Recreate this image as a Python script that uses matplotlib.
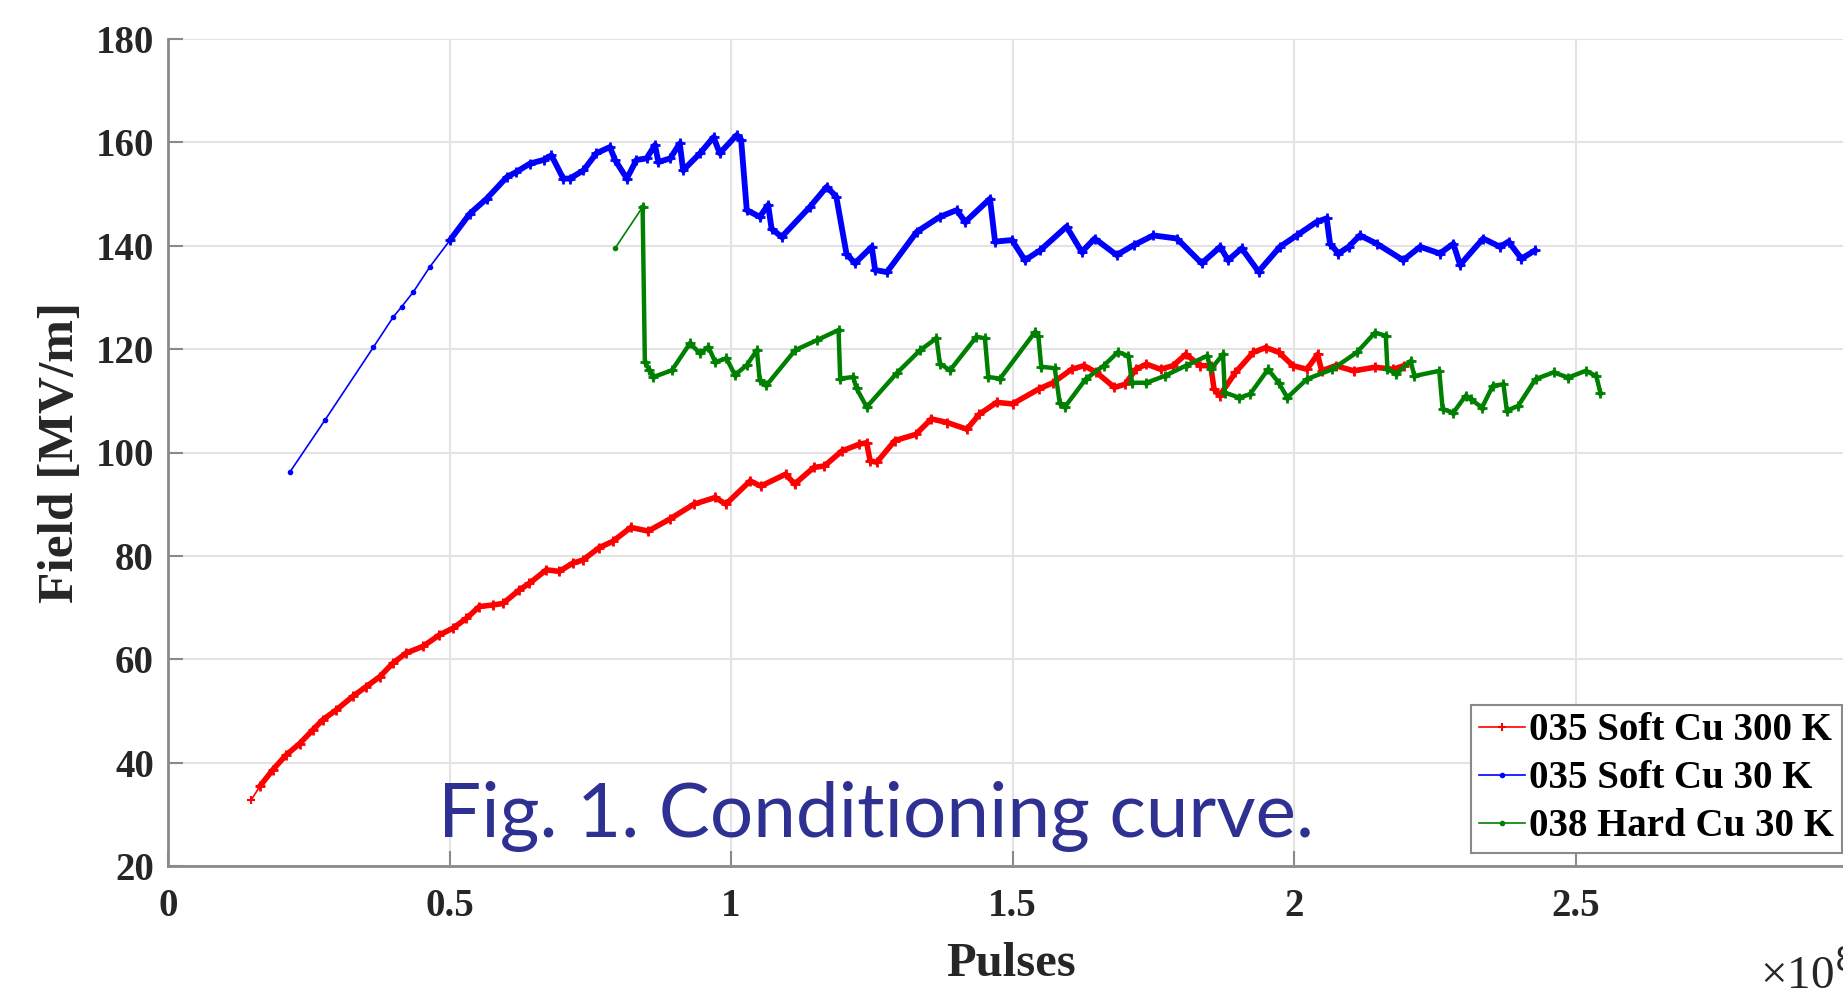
import matplotlib
matplotlib.use("Agg")
import matplotlib.pyplot as plt

# pulses in units of 1e8, field in MV/m
red_x = [0.148, 0.163, 0.186, 0.210, 0.234, 0.257, 0.275, 0.299, 0.328, 0.352,
         0.376, 0.399, 0.423, 0.453, 0.482, 0.506, 0.530, 0.553, 0.577, 0.595,
         0.624, 0.642, 0.672, 0.695, 0.719, 0.737, 0.766, 0.790, 0.822, 0.853,
         0.891, 0.934, 0.972, 0.991, 1.034, 1.053, 1.097, 1.113, 1.147, 1.166,
         1.197, 1.228, 1.241, 1.247, 1.259, 1.291, 1.328, 1.356, 1.384, 1.419,
         1.441, 1.472, 1.500, 1.547, 1.572, 1.605, 1.627, 1.649, 1.681, 1.700,
         1.719, 1.738, 1.763, 1.785, 1.808, 1.833, 1.852, 1.858, 1.868, 1.896,
         1.928, 1.950, 1.973, 1.998, 2.023, 2.042, 2.049, 2.074, 2.106, 2.144,
         2.176, 2.195]
red_y = [32.8, 35.4, 38.6, 41.5, 43.7, 46.3, 48.3, 50.2, 52.8, 54.7,
         56.6, 59.2, 61.2, 62.5, 64.7, 66.0, 67.9, 70.2, 70.5, 70.8,
         73.4, 74.7, 77.3, 77.0, 78.6, 79.2, 81.6, 82.8, 85.5, 84.8,
         87.1, 90.0, 91.3, 90.0, 94.5, 93.5, 95.8, 93.9, 97.1, 97.4,
         100.3, 101.6, 101.9, 98.4, 98.1, 102.3, 103.5, 106.5, 105.8, 104.5,
         107.4, 109.7, 109.4, 112.3, 113.5, 116.1, 116.8, 115.5, 112.6, 113.2,
         116.1, 117.1, 116.1, 116.8, 119.0, 116.8, 116.8, 112.3, 111.0, 115.5,
         119.4, 120.3, 119.4, 116.8, 116.1, 119.0, 115.8, 116.8, 115.8, 116.5,
         116.1, 116.8]

blue_x = [0.217, 0.279, 0.365, 0.400, 0.415, 0.436, 0.465, 0.501, 0.536, 0.566,
          0.602, 0.619, 0.643, 0.667, 0.681, 0.702, 0.714, 0.738, 0.761, 0.785,
          0.794, 0.815, 0.832, 0.850, 0.865, 0.871, 0.892, 0.909, 0.915, 0.945,
          0.969, 0.980, 1.010, 1.018, 1.028, 1.051, 1.066, 1.072, 1.090, 1.140,
          1.170, 1.187, 1.205, 1.220, 1.250, 1.256, 1.277, 1.330, 1.371, 1.401,
          1.416, 1.460, 1.469, 1.499, 1.522, 1.549, 1.596, 1.623, 1.646, 1.685,
          1.715, 1.750, 1.792, 1.836, 1.869, 1.883, 1.907, 1.937, 1.975, 2.005,
          2.040, 2.058, 2.064, 2.079, 2.097, 2.117, 2.147, 2.194, 2.224, 2.259,
          2.283, 2.295, 2.336, 2.366, 2.381, 2.404, 2.428]
blue_y = [96.3, 106.3, 120.4, 126.2, 128.2, 131.1, 135.9, 141.1, 146.2, 149.1,
          153.3, 154.3, 155.9, 156.6, 157.5, 153.0, 153.0, 154.6, 157.9, 159.1,
          156.6, 153.0, 156.6, 156.9, 159.5, 156.2, 156.9, 159.8, 154.6, 157.9,
          161.0, 157.9, 161.4, 160.5, 146.9, 145.6, 147.9, 143.3, 141.7, 147.5,
          151.4, 149.5, 138.5, 136.6, 139.8, 135.3, 134.9, 142.7, 145.6, 146.9,
          144.6, 149.1, 140.8, 141.1, 137.2, 139.1, 143.7, 138.8, 141.4, 138.2,
          140.1, 142.0, 141.4, 136.6, 139.8, 137.2, 139.5, 135.0, 139.8, 142.0,
          144.6, 145.3, 140.4, 138.5, 139.8, 142.0, 140.4, 137.2, 139.8, 138.5,
          140.4, 136.3, 141.4, 139.8, 140.8, 137.5, 139.1]

green_x = [0.794, 0.843, 0.847, 0.855, 0.862, 0.895, 0.927, 0.945, 0.960, 0.972,
           0.992, 1.007, 1.028, 1.046, 1.051, 1.063, 1.114, 1.152, 1.191, 1.194,
           1.217, 1.223, 1.241, 1.294, 1.336, 1.365, 1.371, 1.389, 1.436, 1.451,
           1.457, 1.478, 1.540, 1.546, 1.551, 1.575, 1.584, 1.593, 1.630, 1.662,
           1.687, 1.706, 1.712, 1.738, 1.770, 1.808, 1.846, 1.852, 1.874, 1.877,
           1.903, 1.922, 1.954, 1.973, 1.988, 2.023, 2.068, 2.112, 2.144, 2.163,
           2.166, 2.182, 2.207, 2.214, 2.258, 2.264, 2.283, 2.305, 2.314, 2.334,
           2.353, 2.372, 2.378, 2.398, 2.429, 2.461, 2.487, 2.518, 2.537, 2.544]
green_y = [139.5, 147.5, 117.5, 116.0, 114.6, 115.9, 121.1, 119.2, 120.4, 117.5,
           118.2, 115.0, 116.9, 119.8, 114.0, 113.0, 119.8, 121.7, 123.7, 114.3,
           114.6, 112.4, 108.8, 115.3, 119.8, 122.1, 117.2, 115.9, 122.4, 122.1,
           114.6, 114.3, 123.3, 122.5, 116.6, 116.3, 109.5, 108.8, 114.2, 116.8,
           119.4, 118.7, 113.5, 113.5, 114.8, 116.8, 118.7, 116.1, 119.0, 111.6,
           110.6, 111.3, 116.1, 113.5, 110.6, 114.2, 116.1, 119.4, 123.2, 122.6,
           116.1, 115.2, 117.7, 114.8, 115.8, 108.4, 107.7, 111.0, 110.3, 108.7,
           112.9, 113.2, 108.1, 109.0, 114.2, 115.5, 114.5, 115.8, 114.8, 111.6]

labels = ["035 Soft Cu 300 K", "035 Soft Cu 30 K", "038 Hard Cu 30 K"]
x_ticks = [0, 0.5, 1, 1.5, 2, 2.5]
y_ticks = [20, 40, 60, 80, 100, 120, 140, 160, 180]

serif = "Liberation Serif"
fig = plt.figure(figsize=(18.43, 9.94), dpi=100)
ax = fig.add_axes([168 / 1843, 128 / 994, 1689 / 1843, 827 / 994])

red, blue, green = "#ff0000", "#0000ff", "#008000"

# thin line with markers for the whole run, thick overlay where data is dense
ax.plot(red_x, red_y, color=red, lw=1.2, marker="+", ms=6, mew=1.5, label=labels[0])
ax.plot(red_x[1:], red_y[1:], color=red, lw=4.0, marker="+", ms=7, mew=2)
ax.plot(blue_x, blue_y, color=blue, lw=1.2, marker=".", ms=6, label=labels[1])
ax.plot(blue_x[7:], blue_y[7:], color=blue, lw=4.2, marker="+", ms=7, mew=2)
ax.plot(green_x, green_y, color=green, lw=1.2, marker=".", ms=6, label=labels[2])
ax.plot(green_x[1:], green_y[1:], color=green, lw=3.2, marker="+", ms=7, mew=2)

ax.set_xlim(0, 3)
ax.set_ylim(20, 180)
ax.set_xticks(x_ticks)
ax.set_xticklabels(["0", "0.5", "1", "1.5", "2", "2.5"])
ax.set_yticks(y_ticks)
ax.grid(True, color="#e3e3e3", lw=1.5)
ax.set_axisbelow(True)
for s in ["top", "right"]:
    ax.spines[s].set_visible(False)
for s in ["left", "bottom"]:
    ax.spines[s].set_color("#8a8a8a")
    ax.spines[s].set_linewidth(2)
ax.tick_params(axis="both", direction="in", length=11, width=1.5, color="#8a8a8a")
ax.tick_params(axis="x", pad=16)
ax.tick_params(axis="y", pad=10)
for t in ax.get_xticklabels() + ax.get_yticklabels():
    t.set_fontfamily(serif)
    t.set_fontweight("bold")
    t.set_fontsize(28)
    t.set_color("#262626")

ax.set_xlabel("Pulses", fontfamily=serif, fontweight="bold", fontsize=35,
              color="#262626")
ax.xaxis.set_label_coords(0.499, -0.092)
ax.set_ylabel("Field [MV/m]", fontfamily=serif, fontweight="bold", fontsize=37,
              color="#262626", labelpad=8)

# offset label, cut at the right edge as in the original
fig.text(1760 / 1843, 1 - 975 / 994, r"×10$^{8}$", fontfamily=serif,
         fontsize=34, va="center", ha="left", color="#262626")

leg = ax.legend(loc="lower right", bbox_to_anchor=(1842 / 1843, 141 / 994),
                bbox_transform=fig.transFigure, fancybox=False,
                prop={"family": serif, "weight": "bold", "size": 28},
                handlelength=1.2, handletextpad=0.1, labelspacing=0.28,
                borderpad=0.2, borderaxespad=0, framealpha=1)
leg.get_frame().set_edgecolor("#8a8a8a")
leg.get_frame().set_linewidth(1.5)

fig.text(876 / 1843, 1 - 837 / 994, "Fig. 1. Conditioning curve.",
         fontfamily="Lato", fontsize=55, color="#2e3192", ha="center", va="baseline")

fig.savefig("out.png", dpi=100)
